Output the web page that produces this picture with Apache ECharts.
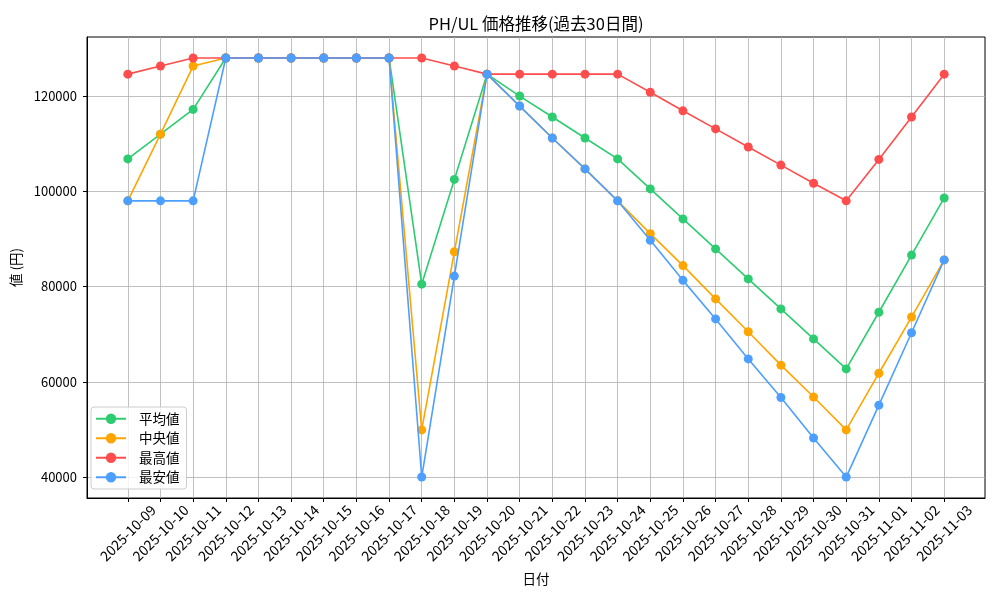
<!DOCTYPE html>
<html>
<head>
<meta charset="utf-8">
<script src="https://cdn.jsdelivr.net/npm/echarts@6/dist/echarts.min.js"></script>
<style>html,body{margin:0;padding:0;background:#fff}#c{width:1000px;height:600px}</style>
</head>
<body>
<div id="c"></div>
<script>
const dates = ["2025-10-09","2025-10-10","2025-10-11","2025-10-12","2025-10-13","2025-10-14","2025-10-15","2025-10-16","2025-10-17","2025-10-18","2025-10-19","2025-10-20","2025-10-21","2025-10-22","2025-10-23","2025-10-24","2025-10-25","2025-10-26","2025-10-27","2025-10-28","2025-10-29","2025-10-30","2025-10-31","2025-11-01","2025-11-02","2025-11-03"];
const avgValues = [106800,112000,117200,128000,128000,128000,128000,128000,128000,80500,102500,124600,120000,115600,111200,106800,100500,94200,87900,81600,75300,69000,62700,74600,86600,98600];
const medianValues = [98000,112000,126300,128000,128000,128000,128000,128000,128000,49900,87300,124600,117900,111200,104700,98000,91100,84400,77400,70500,63500,56800,49900,61800,73600,85600];
const maxValues = [124600,126300,128000,128000,128000,128000,128000,128000,128000,128000,126300,124600,124600,124600,124600,124600,120800,116900,113100,109300,105500,101700,98000,106700,115600,124600];
const minValues = [98000,98000,98000,128000,128000,128000,128000,128000,128000,40000,82200,124600,117900,111200,104700,98000,89700,81300,73200,64800,56700,48200,40000,55100,70300,85600];
const yTicks = [40000,60000,80000,100000,120000];
const seriesNames = ["平均値","中央値","最高値","最安値"];
const seriesColors = ["#2ecc71","#ffa500","#ff4d4d","#4d9fff"];

const xTicks = dates.map((d,i)=>i);
const allSeries = [avgValues, medianValues, maxValues, minValues];
const FONT = '"Noto Sans CJK JP", sans-serif';

const chart = echarts.init(document.getElementById('c'), null, {renderer:'canvas'});
chart.setOption({
  animation:false,
  backgroundColor:'#fff',
  title:{text:'PH/UL 価格推移(過去30日間)', left:531, top:10, textAlign:'center',
    textStyle:{fontFamily:FONT, fontSize:16.5, fontWeight:'normal', color:'#000'}},
  grid:{left:87, right:15, top:37, bottom:102, show:true, borderColor:'#000', borderWidth:1, containLabel:false},
  legend:{orient:'vertical', left:91, top:407, data:seriesNames,
    itemWidth:30, itemHeight:13, itemGap:6,
    padding:[5,7,5,4],
    backgroundColor:'rgba(255,255,255,0.8)', borderColor:'#cccccc', borderWidth:1, borderRadius:3,
    textStyle:{fontFamily:FONT, fontSize:13.5, color:'#000', padding:[0,0,0,8]}},
  xAxis:{type:'value', min:-1.25, max:26.25,
    name:'日付', nameLocation:'middle', nameGap:74,
    nameTextStyle:{fontFamily:FONT, fontSize:13.5, color:'#000'},
    axisLine:{show:true, onZero:false, lineStyle:{color:'#000', width:1}},
    axisTick:{show:true, length:4, lineStyle:{color:'#000'}, customValues:xTicks},
    axisLabel:{customValues:xTicks, rotate:45, margin:35, align:'center', verticalAlign:'middle',
      fontFamily:FONT, fontSize:14, color:'#000',
      formatter:v=>dates[Math.round(v)]||''},
    splitLine:{show:true, lineStyle:{color:'#b0b0b0', width:0.8}}},
  yAxis:{type:'value', min:35600, max:132400,
    name:'値 (円)', nameLocation:'middle', nameGap:62,
    nameTextStyle:{fontFamily:FONT, fontSize:13.5, color:'#000'},
    axisLine:{show:true, onZero:false, lineStyle:{color:'#000', width:1}},
    axisTick:{show:true, length:4, lineStyle:{color:'#000'}, customValues:yTicks},
    axisLabel:{customValues:yTicks, margin:10, fontFamily:FONT, fontSize:13, color:'#000',
      formatter:v=>String(v)},
    splitLine:{show:true, lineStyle:{color:'#b0b0b0', width:0.8}}},
  series: allSeries.map((vals,k)=>({
    name:seriesNames[k], type:'line',
    data: vals.map((v,i)=>[i,v]),
    symbol:'circle', symbolSize:9,
    itemStyle:{color:seriesColors[k]},
    lineStyle:{color:seriesColors[k], width:1.6},
    z:2+k
  }))
});
</script>
</body>
</html>
